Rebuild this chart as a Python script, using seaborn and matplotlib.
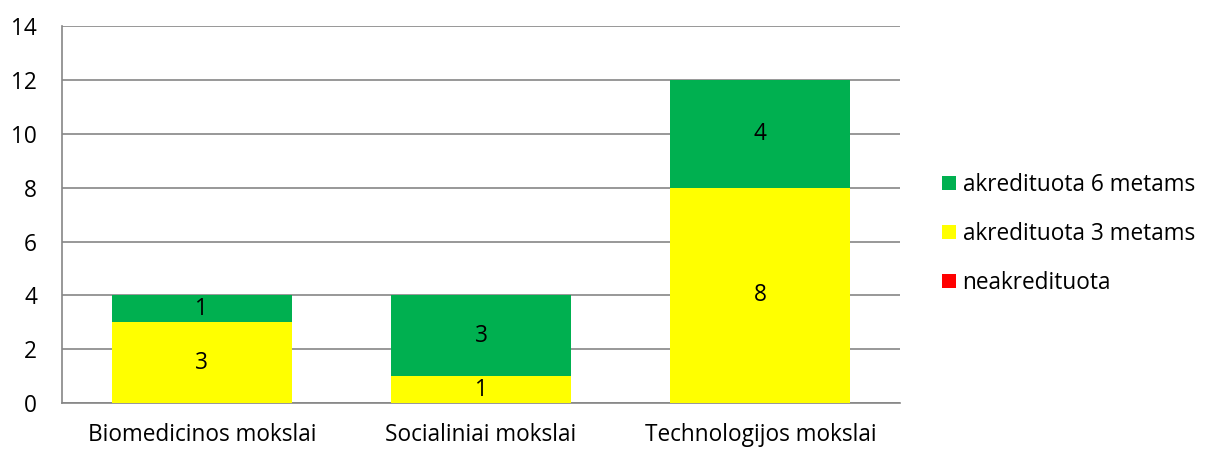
import numpy as np
import pandas as pd
import matplotlib
matplotlib.use('Agg')
import matplotlib.pyplot as plt
import seaborn as sns
from matplotlib.patches import Patch

categories = ['Biomedicinos mokslai', 'Socialiniai mokslai', 'Technologijos mokslai']
neakredituota = [0, 0, 0]
akred_3 = [3, 1, 8]
akred_6 = [1, 3, 4]

series_names = ['akredituota 6 metams', 'akredituota 3 metams', 'neakredituota']
colors = {'akredituota 6 metams': '#00b050',
          'akredituota 3 metams': '#ffff00',
          'neakredituota': '#ff0000'}

sns.set_style('white')
plt.rcParams['font.family'] = ['Open Sans', 'DejaVu Sans']
plt.rcParams['text.color'] = 'black'
plt.rcParams['xtick.color'] = 'black'
plt.rcParams['ytick.color'] = 'black'

FS = 16.3

df = pd.DataFrame({'cat': categories,
                   'neak': neakredituota,
                   'a3': akred_3,
                   'a6': akred_6})
df['top3'] = df['neak'] + df['a3']
df['top6'] = df['top3'] + df['a6']

fig, ax = plt.subplots(figsize=(12.08, 4.51), dpi=100)
fig.subplots_adjust(left=0.0515, right=0.745, top=0.942, bottom=0.106)

# draw cumulative totals back to front so they look stacked
bar_w = 0.645
sns.barplot(data=df, x='cat', y='top6', color=colors['akredituota 6 metams'],
            width=bar_w, saturation=1, ax=ax, zorder=3)
sns.barplot(data=df, x='cat', y='top3', color=colors['akredituota 3 metams'],
            width=bar_w, saturation=1, ax=ax, zorder=3)
sns.barplot(data=df, x='cat', y='neak', color=colors['neakredituota'],
            width=bar_w, saturation=1, ax=ax, zorder=3)
for p in ax.patches:
    p.set_linewidth(0)

# segment labels
for i, row in df.iterrows():
    if row['a3'] > 0:
        ax.text(i, row['neak'] + row['a3'] / 2, str(row['a3']), ha='center', va='center',
                fontsize=FS, color='black', zorder=5)
    if row['a6'] > 0:
        ax.text(i, row['top3'] + row['a6'] / 2, str(row['a6']), ha='center', va='center',
                fontsize=FS, color='black', zorder=5)

ax.set_ylim(0, 14)
ax.set_yticks(range(0, 15, 2))
ax.set_xlim(-0.5, 2.5)
ax.yaxis.grid(True, color='#868686', linewidth=1.2, zorder=0)
ax.set_axisbelow(True)
ax.set_xlabel('')
ax.set_ylabel('')
for s in ['top', 'right']:
    ax.spines[s].set_visible(False)
for s in ['left', 'bottom']:
    ax.spines[s].set_color('#868686')
    ax.spines[s].set_linewidth(1.2)
ax.tick_params(axis='both', length=0, labelsize=FS)
ax.tick_params(axis='x', pad=14)
ax.tick_params(axis='y', pad=18)

handles = [Patch(facecolor=colors[n], edgecolor='none', label=n) for n in series_names]
fig.legend(handles=handles, loc='center left', bbox_to_anchor=(0.780, 0.481),
           frameon=False, fontsize=FS, handlelength=0.6, handleheight=0.6,
           handletextpad=0.3, labelspacing=1.1, borderaxespad=0, borderpad=0)

fig.savefig('out.png', dpi=100)
